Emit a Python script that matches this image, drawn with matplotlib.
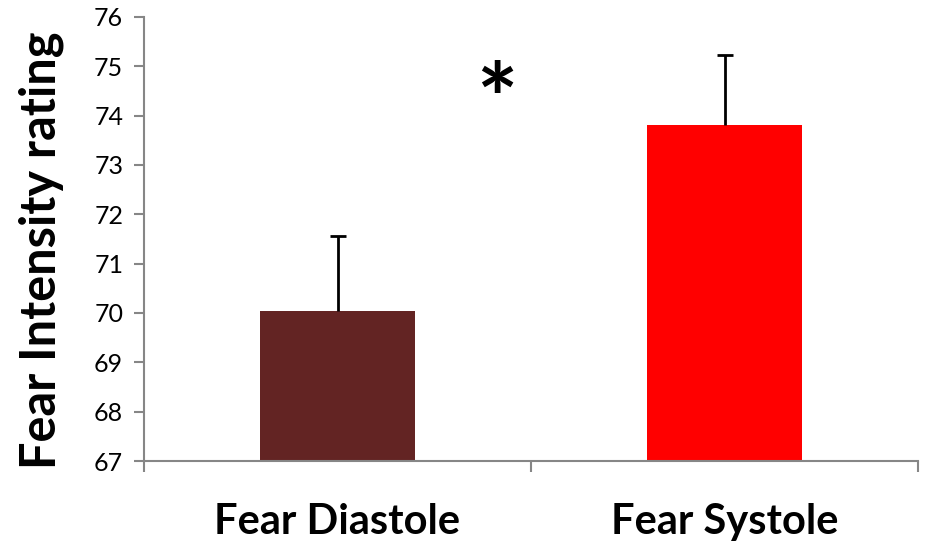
import matplotlib
matplotlib.use("Agg")
import matplotlib.pyplot as plt
import numpy as np

categories = ["Fear Diastole", "Fear Systole"]
values = [70.04, 73.81]
errors_up = [1.52, 1.42]
colors = ["#632423", "#FF0000"]
yticks = [67, 68, 69, 70, 71, 72, 73, 74, 75, 76]

plt.rcParams['font.family'] = ['Lato', 'DejaVu Sans']

fig = plt.figure(figsize=(9.32, 5.47), dpi=100)
ax = fig.add_axes([0.1545, 0.1572, 0.8305, 0.8118])

x = list(range(len(categories)))
ax.bar(x, [v - 67 for v in values], bottom=67, width=0.40, color=colors, zorder=2)
eb = ax.errorbar(x, values, yerr=[[0, 0], errors_up], fmt='none', ecolor='black',
                 elinewidth=2, capsize=6, capthick=2, zorder=3)
for cl in eb[1]:
    yd = np.asarray(cl.get_ydata())
    if np.allclose(yd, values):
        cl.set_visible(False)

ax.set_xlim(-0.5, 1.5)
ax.set_ylim(67, 76)
ax.set_yticks(yticks)
ax.set_yticklabels([str(t) for t in yticks], fontsize=18)
ax.set_xticks(x)
ax.set_xticklabels(categories, fontsize=30, fontweight='bold')
ax.set_xticks([-0.5, 0.5, 1.5], minor=True)
ax.tick_params(axis='x', which='major', length=0, pad=30)
ax.tick_params(axis='x', which='minor', length=8, color='#868686', width=1.5)
ax.tick_params(axis='y', length=7, color='#868686', width=1.5, pad=8)

for s in ['top', 'right']:
    ax.spines[s].set_visible(False)
for s in ['left', 'bottom']:
    ax.spines[s].set_color('#868686')
    ax.spines[s].set_linewidth(1.5)

ax.set_ylabel("Fear Intensity rating", fontsize=35, fontweight='bold')
ax.yaxis.set_label_coords(-0.103, 0.475)
ax.text(0.412, 74.2, "*", fontsize=70, fontweight='bold', ha='center', va='center')

fig.savefig("out.png", dpi=100)
